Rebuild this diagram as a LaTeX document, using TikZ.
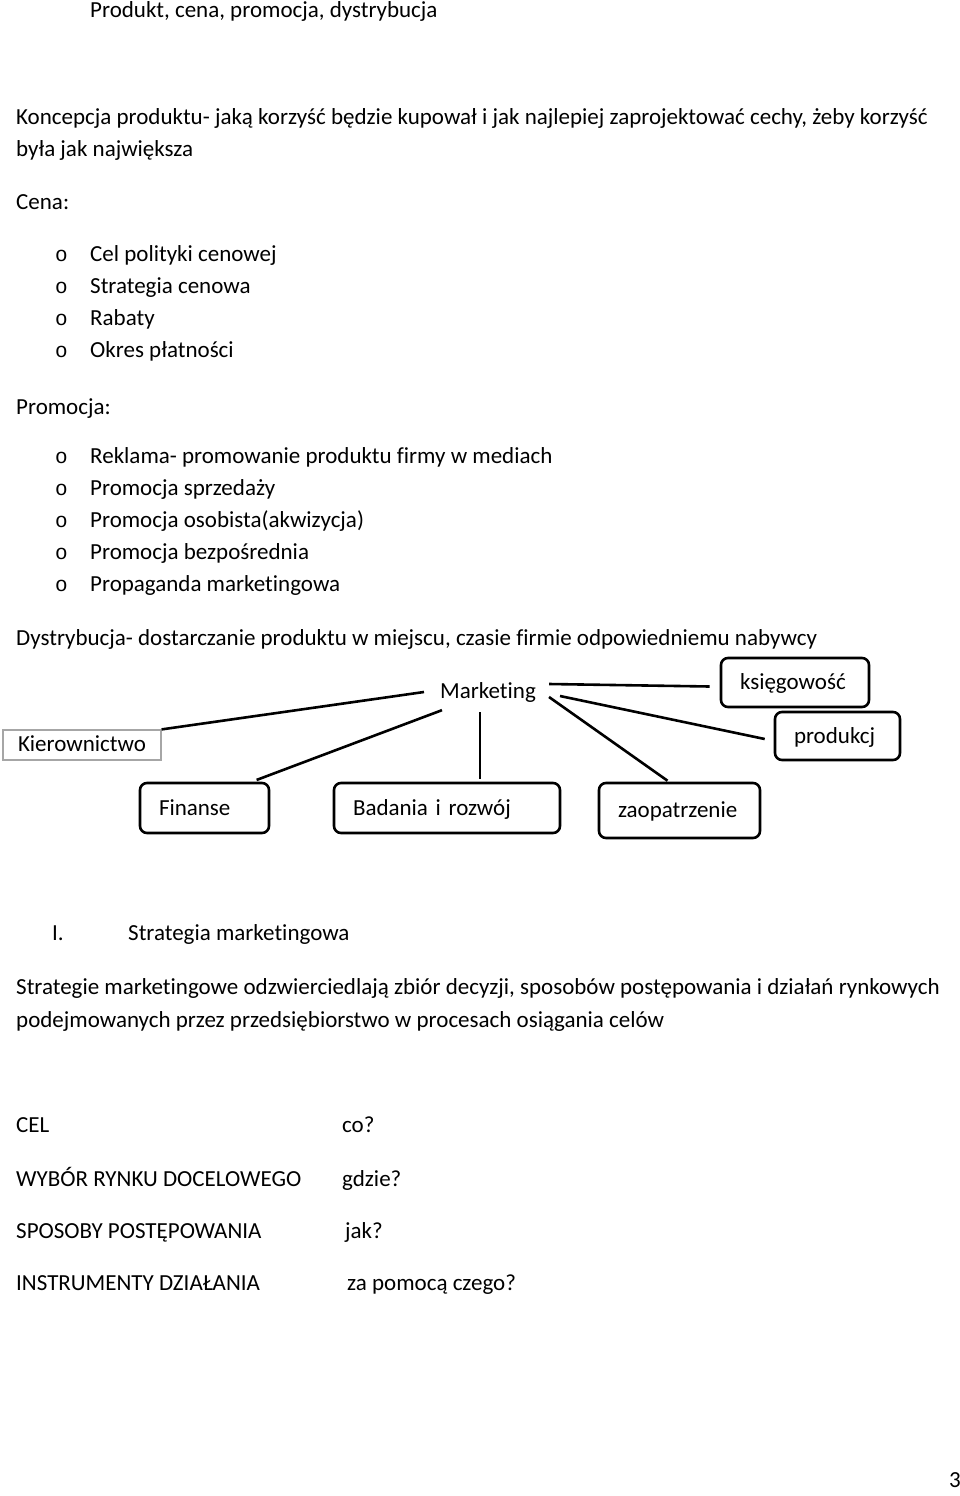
\documentclass[tikz,border=0pt]{standalone}
\usepackage{fontspec}
\setmainfont{Carlito}[Ligatures=NoCommon]
\newfontfamily\bulletfont{Liberation Mono}
\usetikzlibrary{calc}

\begin{document}
\begin{tikzpicture}[x=1pt,y=-1pt,
  every node/.style={font=\fontsize{23}{27}\selectfont},
  txt/.style={anchor=base west,inner sep=0pt},
  dot/.style={anchor=base west,inner sep=0pt,font=\fontsize{21}{25}\bulletfont},
  box/.style={draw,line width=2.6pt,rounded corners=7pt,inner xsep=19pt,inner ysep=0pt,text width=#1,text height=18pt,text depth=4pt,minimum height=50pt},
  link/.style={line width=2.6pt}]
\fill[white] (0,0) rectangle (960,1496);
\useasboundingbox (0,0) rectangle (960,1496);

\node[txt] (title) at (90,18) {Produkt, cena, promocja, dystrybucja};
\node[txt] (konc1) at (16,124) {Koncepcja produktu- jaką korzyść będzie kupował i jak najlepiej zaprojektować cechy, żeby korzyść};
\node[txt] (konc2) at (16,156) {była jak największa};

\node[txt] (cena) at (16,209) {Cena:};
\foreach \t [count=\i] in {Cel polityki cenowej,Strategia cenowa,Rabaty,Okres płatności}{
  \node[dot] (cdot\i) at (55,229+32*\i) {o};
  \node[txt] (cena\i) at (90,229+32*\i) {\t};
}

\node[txt] (prom) at (16,414) {Promocja:};
\foreach \t [count=\i] in {Reklama- promowanie produktu firmy w mediach,Promocja sprzedaży,Promocja osobista(akwizycja),Promocja bezpośrednia,Propaganda marketingowa}{
  \node[dot] (pdot\i) at (55,431+32*\i) {o};
  \node[txt] (prom\i) at (90,431+32*\i) {\t};
}

\node[txt] (dyst) at (16,645) {Dystrybucja- dostarczanie produktu w miejscu, czasie firmie odpowiedniemu nabywcy};

\node[inner xsep=16pt,inner ysep=8pt] (mark) at (488,692) {Marketing};
\node[draw=gray!70,line width=1.2pt,inner xsep=15pt,inner ysep=0pt,text width=128pt,text height=17pt,text depth=4pt,minimum height=30pt] (kier) at (82,745) {Kierownictwo};
\node[box=110pt,minimum height=49pt] (ksi) at (795,682.5) {księgowość};
\node[box=87pt,minimum height=48pt] (prod) at (837.5,736) {produkcj};
\node[box=91pt] (fin) at (204.5,808) {Finanse};
\node[box=188pt] (bad) at (447,808) {\mbox{Badania i rozwój}};
\node[box=123pt,minimum height=55pt] (zaop) at (679.5,810.5) {zaopatrzenie};

\draw[link] (kier.north east) -- (mark.west);
\draw[link,shorten <=5pt] (fin.29) -- ($(mark.south west)+(18,0)$);
\coordinate (mdown) at ($(mark.south)+(-8,2)$);
\draw[link,shorten >=3pt] (mdown) -- (mdown |- bad.north);
\draw[link] ($(mark.east)+(-3,-8)$) -- ($(ksi.west)+(-10,4)$);
\draw[link] ($(mark.east)+(8,4)$) -- ($(prod.west)+(-9,3)$);
\draw[link] ($(mark.east)+(-3,5)$) -- ($(zaop.north)+(-12,-1)$);

\node[txt] (num) at (52,940) {I.};
\node[txt] (strat) at (128,940) {Strategia marketingowa};
\node[txt] (def1) at (16,994) {Strategie marketingowe odzwierciedlają zbiór decyzji, sposobów postępowania i działań rynkowych};
\node[txt] (def2) at (16,1027) {podejmowanych przez przedsiębiorstwo w procesach osiągania celów};

\node[txt] (cel) at (16,1132) {CEL};
\node[txt] (celq) at (342,1132) {co?};
\node[txt] (ryn) at (16,1186) {WYBÓR RYNKU DOCELOWEGO};
\node[txt] (rynq) at (342,1186) {gdzie?};
\node[txt] (spos) at (16,1238) {SPOSOBY POSTĘPOWANIA};
\node[txt] (sposq) at (345,1238) {jak?};
\node[txt] (inst) at (16,1290) {INSTRUMENTY DZIAŁANIA};
\node[txt] (instq) at (347,1290) {za pomocą czego?};

\node[txt] (page) at (949,1487) {3};
\end{tikzpicture}
\end{document}
